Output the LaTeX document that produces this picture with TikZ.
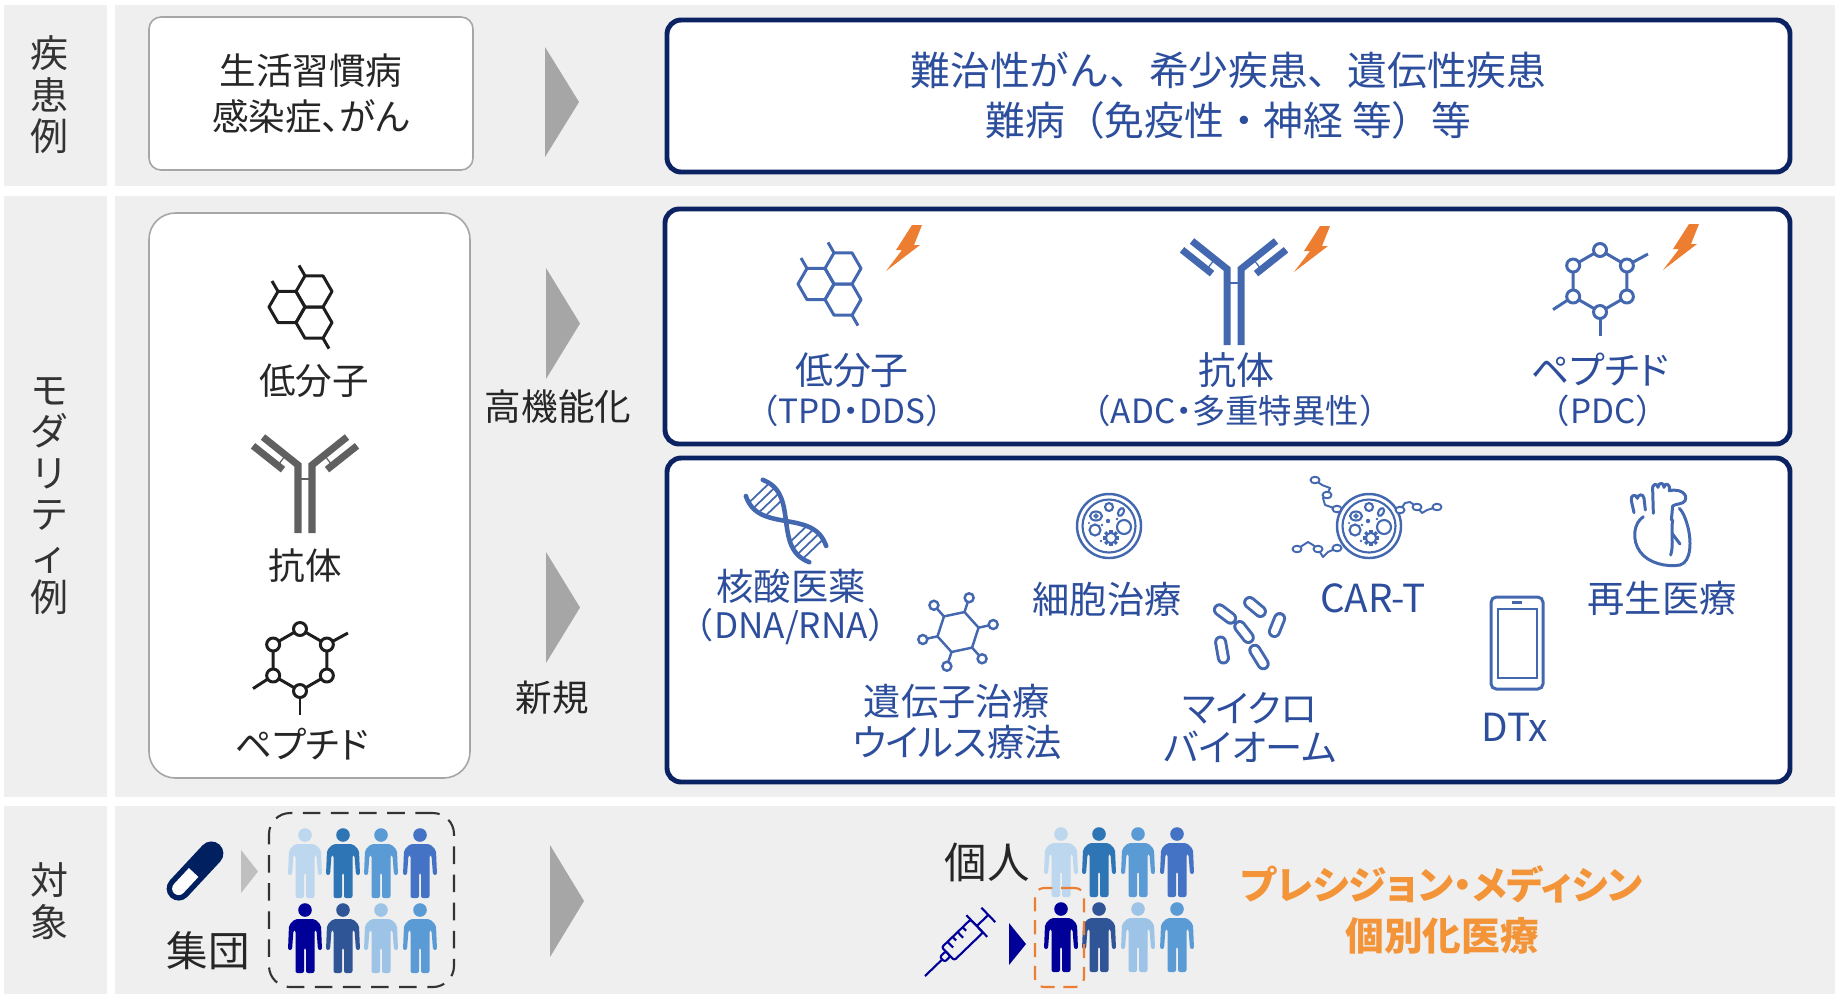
\documentclass[tikz,border=0pt]{standalone}
\usepackage{fontspec}
\setmainfont{Noto Sans CJK JP}
\newfontfamily\jphalf{Noto Sans CJK JP}[RawFeature=+halt]
\newfontfamily\jpprop{Noto Sans CJK JP}[RawFeature=+palt]

\definecolor{bandGray}{HTML}{EFEFEF}
\definecolor{labelInk}{HTML}{333333}
\definecolor{bodyInk}{HTML}{262626}
\definecolor{boxGray}{HTML}{A6A6A6}
\definecolor{chevGray}{HTML}{A6A6A6}
\definecolor{tipGray}{HTML}{BFBFBF}
\definecolor{navyEdge}{HTML}{0B2263}
\definecolor{textBlue}{HTML}{2C4E9C}
\definecolor{iconBlue}{HTML}{4468B0}
\definecolor{boltOrange}{HTML}{ED7D31}
\definecolor{precOrange}{HTML}{F39438}
\definecolor{molInk}{HTML}{1E1E1E}
\definecolor{abGray}{HTML}{606060}
\definecolor{pillNavy}{HTML}{002060}
\definecolor{deepBlue}{HTML}{000099}
\definecolor{pplA}{HTML}{BDD7EE}
\definecolor{pplB}{HTML}{2E75B6}
\definecolor{pplC}{HTML}{5B9BD5}
\definecolor{pplD}{HTML}{4472C4}
\definecolor{pplE}{HTML}{000099}
\definecolor{pplF}{HTML}{2F5597}
\definecolor{pplG}{HTML}{9DC3E6}

\begin{document}
\begin{tikzpicture}[
  x=0.1mm,
  y=-0.1mm,
  band/.style={fill=bandGray},
  sidelabel/.style={
    font=\fontsize{10.8pt}{11.8pt}\selectfont,
    text=labelInk,
    align=center,
    inner sep=0pt
  },
  plainbox/.style={
    rounded corners=3.4pt,
    draw=boxGray,
    fill=white,
    line width=.45pt,
    align=center,
    inner sep=0pt
  },
  navybox/.style={
    rounded corners=4pt,
    draw=navyEdge,
    fill=white,
    line width=1.4pt,
    align=center,
    inner sep=0pt
  },
  groupbox/.style={rounded corners=6pt, draw=labelInk, dashed, line width=.6pt, dash pattern=on 5pt off 3pt},
  pickbox/.style={rounded corners=2.5pt, draw=boltOrange, line width=.6pt, dash pattern=on 4pt off 2.5pt},
  bodytext/.style={font=\jpprop\fontsize{10.4pt}{13.1pt}\selectfont, text=bodyInk, align=center, inner sep=0pt},
  bluehead/.style={font=\fontsize{11.3pt}{14.2pt}\selectfont, text=textBlue, align=center},
  modname/.style={font=\jpprop\fontsize{10.8pt}{12pt}\selectfont, text=textBlue, inner sep=0pt},
  modnote/.style={font=\jphalf\fontsize{9.5pt}{11pt}\selectfont, text=textBlue, inner sep=0pt},
  newname/.style={font=\jpprop\fontsize{10.6pt}{11.8pt}\selectfont, text=textBlue, align=center, inner sep=0pt},
  precise/.style={font=\jpprop\bfseries\fontsize{11pt}{14.6pt}\selectfont, text=precOrange, align=center, inner sep=0pt},
  icon/.style={line width=.85pt, line join=round},
  % fused ring molecule, origin at the shared vertex
  hexmol/.pic={
    \foreach \hx/\hy in {9/-15.6, -18/0, 9/15.6}
      \draw (\hx,\hy) ++(0:18) -- ++(120:18) -- ++(180:18) -- ++(240:18)
        -- ++(300:18) -- ++(0:18) -- cycle;
    \draw (0,-31.2) -- ++(240:12);
    \draw (-27,-15.6) -- ++(240:12);
    \draw (18,31.2) -- ++(60:12);
  },
  % Y-shaped antibody, origin at the fork, #1 = stem length
  antibody/.pic={
    \draw[line width=2pt] (-7,#1) -- (-7,0) -- (-42,-28);
    \draw[line width=2pt] (7,#1) -- (7,0) -- (42,-28);
    \draw[line width=2pt] (-22,4.6) -- (-52,-19.2);
    \draw[line width=2pt] (22,4.6) -- (52,-19.2);
    \draw[line width=.35pt] (-19.3,-9.8) -- (-27.3,.4);
    \draw[line width=.35pt] (19.3,-9.8) -- (27.3,.4);
    \draw[line width=.35pt] (-7,14) -- (7,14);
  },
  % ring of beads
  peptide/.pic={
    \draw (30:31) -- (90:31) -- (150:31) -- (210:31) -- (270:31) -- (330:31) -- cycle;
    \draw (330:31) -- ++(-28.6:24);
    \draw (150:31) -- ++(147:24);
    \draw (90:31) -- ++(90:24);
    \foreach \a in {30,90,...,330}
      \filldraw[fill=white] (\a:31) circle[radius=6.5];
  },
  bolt/.pic={
    \fill[boltOrange] (26,0) -- (36,0) -- (28,20) -- (34,20) -- (0,46) -- (16,25) -- (10,25) -- cycle;
  },
  % cell with organelles, origin at its centre
  cell/.pic={
    \draw[line width=.7pt] (0,0) circle[radius=32];
    \draw[line width=.6pt] (0,0) circle[radius=26.5];
    \draw[line width=.6pt] (-13,-10) ellipse[x radius=6, y radius=4.5];
    \draw[line width=.45pt] (-13,-10) circle[radius=1.8];
    \draw[line width=.6pt] (0,-19) circle[radius=4];
    \draw[line width=.6pt, rotate around={60:(12,-14)}] (12,-14) ellipse[x radius=4.2, y radius=2.6];
    \fill (-1,-5) circle[radius=2.2];
    \draw[line width=.6pt] (-14,4) circle[radius=5.5];
    \draw[line width=.6pt] (15,1) circle[radius=7];
    \draw[line width=.6pt] (2,12) circle[radius=5.2];
    \foreach \g in {0,45,...,315}
      \draw[line width=.9pt] (2,12) ++(\g:5.2) -- ++(\g:3);
    \fill (-7,-1) circle[radius=1.3];
    \fill (8,-7) circle[radius=1.3];
    \fill (-8,15) circle[radius=1.3];
    \fill (-20,-3) circle[radius=1.2];
  },
  virus/.pic={
    \draw (48:21) -- (108:21) -- (168:21) -- (228:21) -- (288:21) -- (348:21) -- cycle;
    \foreach \a in {48,108,...,348} {
      \draw (\a:21) -- (\a:31.5);
      \draw (\a:36) circle[radius=4.5];
    }
  },
  dna/.pic={
    \draw[line width=1.3pt, line cap=round] plot[domain=-46:46, samples=60, variable=\t]
      ({.69*\t+10.8*sin(2.8*\t)}, {.72*\t-10.35*sin(2.8*\t)});
    \draw[line width=1.3pt, line cap=round] plot[domain=-46:46, samples=60, variable=\t]
      ({.69*\t-10.8*sin(2.8*\t)}, {.72*\t+10.35*sin(2.8*\t)});
    \foreach \t in {-39,-32,-25,-18,18,25,32,39}
      \draw[line width=.5pt] ({.69*\t+10.8*sin(2.8*\t)}, {.72*\t-10.35*sin(2.8*\t)})
        -- ({.69*\t-10.8*sin(2.8*\t)}, {.72*\t+10.35*sin(2.8*\t)});
  },
  % standing figure, origin at the top of the head
  person/.pic={
    \fill[#1] (0,7) circle[radius=6.8];
    \fill[#1, rounded corners=.6pt] (-10,16) -- (10,16) -- (16,22) -- (17,47) -- (13,47)
      -- (11.5,27) -- (9.5,27) -- (9.5,70) -- (1,70) -- (1,45) -- (-1,45) -- (-1,70)
      -- (-9.5,70) -- (-9.5,27) -- (-11.5,27) -- (-13,47) -- (-17,47) -- (-16,22) -- cycle;
  }
]

\path[use as bounding box] (0,0) rectangle (1835,994);
\fill[white] (0,0) rectangle (1835,994);

% row bands
\fill[band] (4,5) rectangle (107,186);
\fill[band] (115,5) rectangle (1835,186);
\fill[band] (4,196) rectangle (107,797);
\fill[band] (115,196) rectangle (1835,797);
\fill[band] (4,806) rectangle (107,994);
\fill[band] (115,806) rectangle (1835,994);

\node[sidelabel] (lbldisease) at (49,95) {疾\\患\\例};
\node[sidelabel] (lblmodality) at (49,496) {モ\\ダ\\リ\\テ\\ィ\\例};
\node[sidelabel] (lbltarget) at (49,901) {対\\象};

% disease row
\node[plainbox, bodytext, minimum width=32.4mm, minimum height=15.3mm] (common)
  at (311,93.5) {生活習慣病\\感染症、がん};
\fill[chevGray] (545,47) -- (579,102) -- (545,157) -- cycle;
\node[navybox, bluehead, minimum width=112.3mm, minimum height=15.2mm] (rare)
  at (1228.5,96) {難治性がん、希少疾患、遺伝性疾患\\難病（免疫性・神経 等）等};

% modality row, current
\node[plainbox, rounded corners=7.5pt, minimum width=32.1mm, minimum height=56.5mm] (current)
  at (309.5,495.5) {};
\pic[icon, molInk] (molK) at (305,307) {hexmol};
\node[bodytext] (smallK) at (314,381) {低分子};
\pic[abGray] (abK) at (305,465) {antibody=68};
\node[bodytext] (abodyK) at (305,566) {抗体};
\pic[icon, molInk] (pepK) at (300,660) {peptide};
\node[bodytext] (peptK) at (302,744) {ペプチド};

\fill[chevGray] (546,268) -- (580,323.5) -- (546,379) -- cycle;
\fill[chevGray] (546,552) -- (580,607.5) -- (546,663) -- cycle;
\node[bodytext] (upgrade) at (558,407) {高機能化};
\node[bodytext] (novel) at (552,698) {新規};

% modality row, upgraded
\node[navybox, minimum width=112.5mm, minimum height=23.5mm] (advanced) at (1227.5,326.5) {};
\pic[icon, iconBlue] (molB) at (834,284) {hexmol};
\pic (boltA) at (886,225) {bolt};
\node[modname] (smallB) at (852,370) {低分子};
\node[modnote] (smallNote) at (852,411) {（TPD・DDS）};
\pic[iconBlue] (abB) at (1234,269) {antibody=76};
\pic (boltB) at (1294,226) {bolt};
\node[modname] (abodyB) at (1236,370) {抗体};
\node[modnote] (abodyNote) at (1235,411) {（ADC・多重特異性）};
\pic[icon, iconBlue] (pepB) at (1600,281) {peptide};
\pic (boltC) at (1663,224) {bolt};
\node[modname] (peptB) at (1600,370) {ペプチド};
\node[modnote] (peptNote) at (1603,411) {（PDC）};

% modality row, new
\node[navybox, minimum width=112.3mm, minimum height=32.4mm] (fresh) at (1228.5,620) {};
\pic[iconBlue] (helix) at (786,521) {dna};
\node[newname] (nucleic) at (791,586) {核酸医薬};
\node[newname, font=\jphalf\fontsize{10pt}{11.8pt}\selectfont] (nucleicNote) at (791,627) {（DNA/RNA）};
\pic[iconBlue, line width=.7pt] (vector) at (958,632) {virus};
\node[newname] (genether) at (957,722) {遺伝子治療\\ウイルス療法};
\pic[iconBlue] (cellA) at (1109,526) {cell};
\node[newname] (cellther) at (1107,599) {細胞治療};
\foreach \ax/\ay/\bx/\by in {1219.4/609.8/1230.6/618.2, 1249.6/602.5/1260.4/611.5,
    1239.7/626.5/1248.3/637.5, 1274.4/631.5/1279.6/618.5,
    1220.6/642/1223.4/658, 1254.8/650.2/1263.2/663.8} {
  \draw[iconBlue, line width=3.7pt, line cap=round] (\ax,\ay) -- (\bx,\by);
  \draw[white, line width=2pt, line cap=round] (\ax,\ay) -- (\bx,\by);
}
\node[newname, font=\jpprop\fontsize{10.6pt}{11pt}\selectfont] (microbe) at (1250,727.5) {マイクロ\\バイオーム};
% receptor chains around the T cell
\begin{scope}[iconBlue, line width=.55pt, line join=round]
  \draw (1337,509) -- (1325,505) -- (1323,498) -- (1327,495) -- (1330,488) -- (1322,485) -- (1315,480);
  \draw (1400,510) -- (1405,503) -- (1410,502) -- (1417,507) -- (1422,513) -- (1427,510) -- (1437,507);
  \draw (1337,548) -- (1328,552) -- (1323,557) -- (1318,549) -- (1313,545) -- (1308,542) -- (1297,549);
  \foreach \p in {(1327,495),(1315,480),(1417,507),(1437,507),(1318,549),(1297,549)}
    \filldraw[fill=white] \p ellipse[x radius=4.5, y radius=3.3];
\end{scope}
\pic[iconBlue] (cellB) at (1369,526) {cell};
\foreach \p in {(1337,509),(1400,510),(1337,548)}
  \filldraw[iconBlue, line width=.55pt, fill=white] \p ellipse[x radius=4.5, y radius=3.3];
\node[newname, font=\fontsize{11pt}{12pt}\selectfont] (cart) at (1373,598) {CAR-T};
\draw[iconBlue, line width=.85pt, rounded corners=1.5pt] (1491,597) rectangle (1543,689);
\draw[iconBlue, line width=.6pt] (1498,609) rectangle (1537,678);
\draw[iconBlue, line width=.6pt] (1512,602.5) -- (1522,602.5);
\node[newname, font=\fontsize{11pt}{12pt}\selectfont] (dtx) at (1515,727) {DTx};
% heart
\begin{scope}[shift={(1600,470)}, scale=.3333, iconBlue, line width=.85pt, line cap=round, line join=round]
  \draw (130,140) .. controls (100,160) and (95,210) .. (120,245)
    .. controls (145,280) and (200,292) .. (240,285)
    .. controls (275,275) and (275,210) .. (262,165)
    .. controls (255,140) and (248,125) .. (238,115);
  \draw (102,128) -- (94,92) .. controls (90,75) and (108,70) .. (112,85)
    .. controls (114,72) and (130,70) .. (132,85) -- (136,120);
  \draw (160,130) -- (158,60) .. controls (155,40) and (172,38) .. (174,52)
    .. controls (175,36) and (192,36) .. (192,52)
    .. controls (194,36) and (212,40) .. (208,62)
    .. controls (240,55) and (265,72) .. (255,92)
    .. controls (248,104) and (228,100) .. (218,108) -- (214,150);
  \draw (218,150) .. controls (212,185) and (222,225) .. (212,255);
  \draw (216,190) -- (240,222);
\end{scope}
\node[newname] (regen) at (1662,598) {再生医療};

% target row, population
\begin{scope}[shift={(195,871)}, rotate=47]
  \fill[pillNavy, rounded corners=3.4pt] (-36,-12) rectangle (36,12);
  \fill[white] (-2,-6.5) -- (-24,-6.5) arc[start angle=-90, end angle=-270, radius=6.5] -- (-2,6.5) -- cycle;
\end{scope}
\fill[tipGray] (241,850) -- (258,871.5) -- (241,893) -- cycle;
\node[bodytext, font=\fontsize{11.8pt}{13pt}\selectfont] (crowd) at (208,951) {集団};
\node[groupbox, minimum width=18.5mm, minimum height=17.4mm] (crowdbox) at (361.5,900) {};
\foreach \px/\pc in {305/pplA, 343/pplB, 381/pplC, 420/pplD}
  \pic (crowdT\pc) at (\px,828) {person=\pc};
\foreach \px/\pc in {305/pplE, 343/pplF, 381/pplG, 420/pplC}
  \pic (crowdB\pc) at (\px,903) {person=\pc};
\fill[chevGray] (550,845) -- (584,901) -- (550,957) -- cycle;

% target row, individual
\node[bodytext, font=\fontsize{12.1pt}{13pt}\selectfont] (single) at (987,862) {個人};
\foreach \px/\pc in {1061/pplA, 1099/pplB, 1138/pplC, 1177/pplD}
  \pic (oneT\pc) at (\px,827) {person=\pc};
\foreach \px/\pc in {1061/pplE, 1099/pplF, 1138/pplG, 1177/pplC}
  \pic (oneB\pc) at (\px,902) {person=\pc};
\node[pickbox, minimum width=4.9mm, minimum height=9.9mm] (pick) at (1059.5,937.5) {};
\begin{scope}[shift={(925,976)}, rotate=44, deepBlue, line width=.6pt, line join=round]
  \draw (0,0) -- (24,0);
  \draw[rounded corners=.6pt] (24,-3.5) rectangle (32,3.5);
  \draw[rounded corners=.6pt] (32,-9) rectangle (72,9);
  \foreach \tx/\tl in {40/8, 47/5, 54/8, 61/5}
    \draw (\tx,-9) -- ++(0,\tl);
  \draw (72,-15) -- (72,15);
  \draw (72,0) -- (88,0);
  \draw (88,-10) -- (88,10);
\end{scope}
\fill[deepBlue] (1009,923) -- (1026,944) -- (1009,965) -- cycle;
\node[precise] (precision) at (1442,910) {プレシジョン・メディシン\\個別化医療};
\end{tikzpicture}
\end{document}
